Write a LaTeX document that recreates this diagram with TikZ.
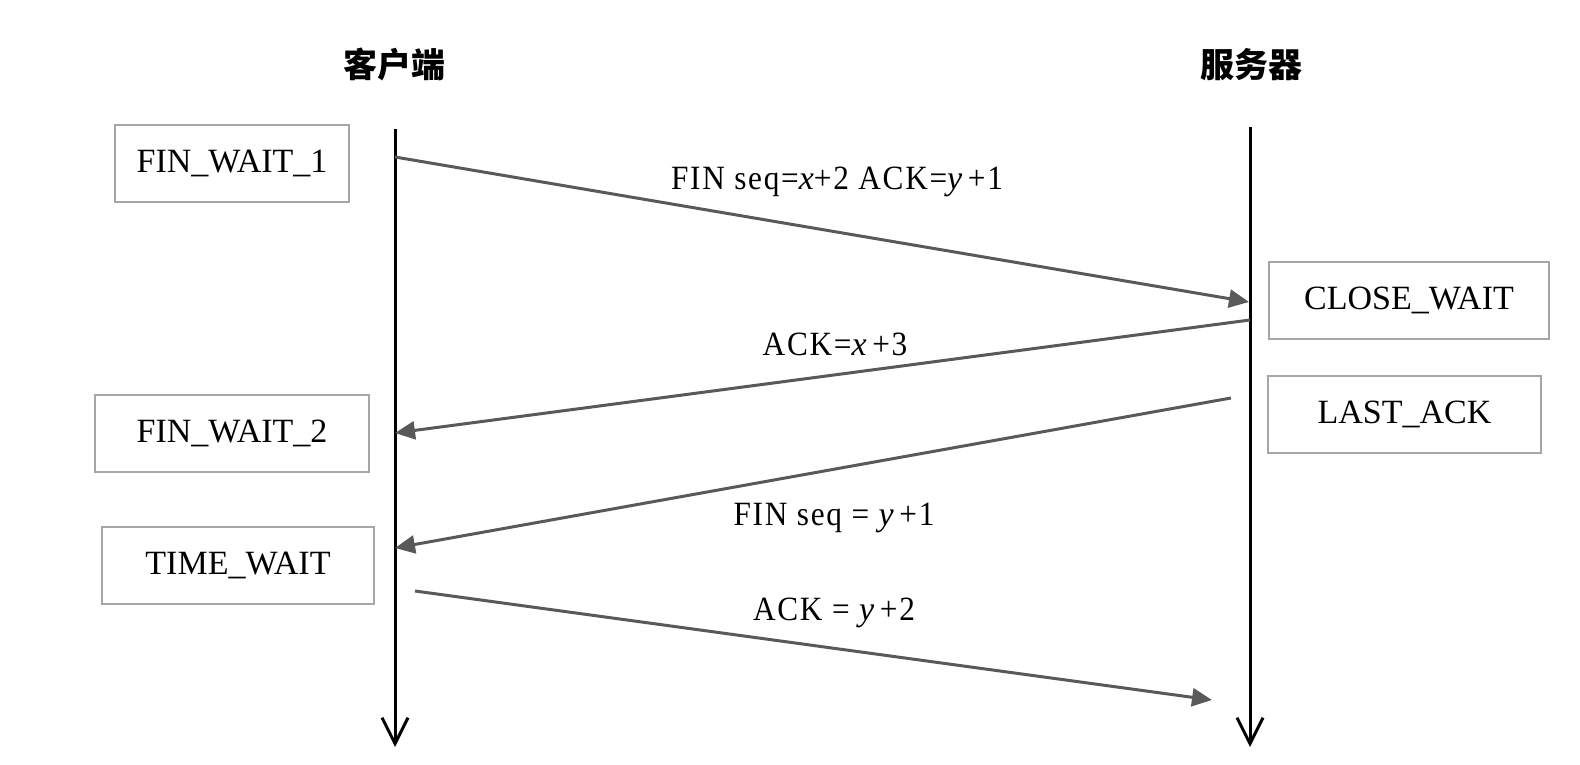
\documentclass[tikz,border=0pt]{standalone}
\usepackage{fontspec}
\setmainfont{Liberation Serif}
\newfontfamily\cjk{Noto Sans CJK SC}
\newfontfamily\msgfont[LetterSpace=5,FakeStretch=0.92]{Liberation Serif}
\usetikzlibrary{arrows.meta}
\definecolor{msggray}{HTML}{595959}
\definecolor{boxgray}{HTML}{A6A6A6}
\newcommand{\iv}[1]{{\rmfamily\itshape #1}}
\begin{document}
\begin{tikzpicture}[x=0.5pt,y=-0.5pt,>={Triangle[length=10pt,width=9pt]},
    statebox/.style={draw=boxgray,line width=1pt,minimum height=38.5pt,inner sep=0pt,font=\fontsize{17}{20}\selectfont},
    lifeline/.style={line width=1.5pt,-{Straight Barb[length=13pt,width=13pt]}},
    msg/.style={msggray,line width=1.5pt,->},
    msglabel/.style={anchor=base,font=\msgfont\fontsize{17}{20}\selectfont},
    title/.style={font=\cjk\bfseries\fontsize{17}{20}\selectfont}]
\useasboundingbox (0,0) rectangle (1580,765);
%Titles over the two sides
    \node[title] (client) at (394,64) {客户端};
    \node[title] (server) at (1251,65) {服务器};
%Time lines of client and server
    \coordinate (ctop) at (395,129);
    \coordinate (cbot) at (395,747);
    \coordinate (stop) at (1250,127);
    \coordinate (sbot) at (1250,747);
    \draw[lifeline] (ctop) -- (cbot);
    \draw[lifeline] (stop) -- (sbot);
%State boxes beside the time lines
    \foreach \name/\x/\y/\w/\txt in {fw1/232/163.5/117/FIN\_WAIT\_1,fw2/232/433.5/137/FIN\_WAIT\_2,tw/238/565.5/136/TIME\_WAIT,cw/1409/300.5/140/CLOSE\_WAIT,la/1404.5/414/136.5/LAST\_ACK}
        {
        \node[statebox,minimum width=\w pt] (\name) at (\x,\y) {\txt};
    }
%Messages between client and server
    \coordinate (m1a) at (395,157);
    \coordinate (m1b) at (1249,302);
    \coordinate (m2a) at (1250,320);
    \coordinate (m2b) at (395,433);
    \coordinate (m3a) at (1231,398);
    \coordinate (m3b) at (395,548);
    \coordinate (m4a) at (415,591);
    \coordinate (m4b) at (1212,700);
    \draw[msg] (m1a) -- (m1b);
    \draw[msg] (m2a) -- (m2b);
    \draw[msg] (m3a) -- (m3b);
    \draw[msg] (m4a) -- (m4b);
    \node[msglabel] (l1) at (837,190) {FIN seq=\iv{x}+2 ACK=\iv{y}\,+1};
    \node[msglabel] (l2) at (835,355) {ACK=\iv{x}\,+3};
    \node[msglabel] (l3) at (834,525) {FIN seq = \iv{y}\,+1};
    \node[msglabel] (l4) at (834,620) {ACK = \iv{y}\,+2};
\end{tikzpicture}
\end{document}
